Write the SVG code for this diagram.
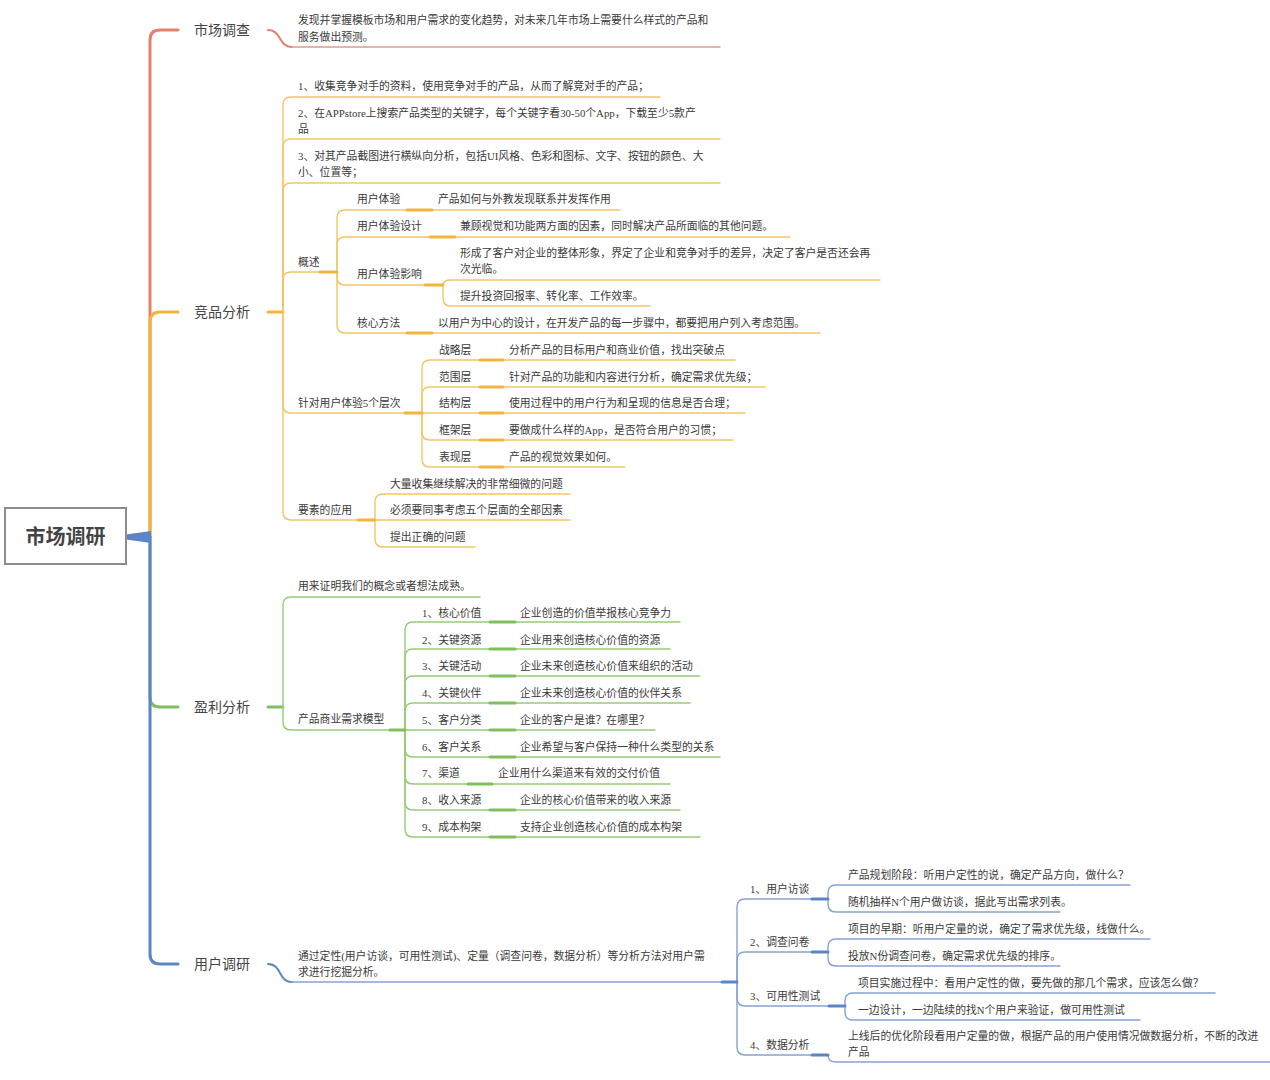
<svg xmlns="http://www.w3.org/2000/svg" width="1270" height="1080" viewBox="0 0 1270 1080">
<style>
text{font-family:"Liberation Serif","Noto Sans CJK SC",sans-serif;fill:#3a3a3a;font-size:10.8px;dominant-baseline:central}
.main{font-size:14px;fill:#444}
.root{font-size:20px;font-weight:bold;fill:#444}
path{fill:none;stroke-linecap:round;stroke-linejoin:round}
.r{stroke:#e4806e}.o{stroke:#f1b43c}.g{stroke:#80c05c}.b{stroke:#5b85c7}
.t{stroke-width:3}
.s{stroke-width:1.4}
.ro{stroke:#f3c665}.rg{stroke:#96cc78}.rb{stroke:#86a3d2}.rr{stroke:#dc9a8e}
.k{stroke-width:3}
</style>
<rect width="1270" height="1080" fill="#fff"/>
<g id="connectors">
  <!-- trunk -->
  <path class="r t" d="M150,537 L150,40 Q150,30 160,30 L178,30"/>
  <path class="g t" d="M150,537 L150,697 Q150,707 160,707 L178,707"/>
  <path class="o t" d="M150,537 L150,322 Q150,312 160,312 L178,312"/>
  <path class="b t" d="M150,537 L150,954 Q150,964 160,964 L178,964"/>
  <polygon points="126,534.5 126,539.5 151,543 151,531" fill="#5b85c7"/>
  <!-- 市场调查 -->
  <path class="r" stroke-width="2" d="M268,30 C282,30 278,47 292,47"/>
  <path class="rr s" d="M290,47 L720,47"/>
  <!-- 竞品分析 -->
  <path class="o k" d="M268,312 L283,312"/>
  <g class="ro s">
    <path d="M283,312 L283,105 Q283,97 291,97 L660,97"/>
    <path d="M283,312 L283,147 Q283,139 291,139 L720,139"/>
    <path d="M283,312 L283,191 Q283,183 291,183 L720,183"/>
    <path d="M283,312 L283,280 Q283,272 291,272 L322,272"/>
    <path d="M283,312 L283,405 Q283,413 291,413 L405,413"/>
    <path d="M283,312 L283,512 Q283,520 291,520 L358,520"/>
    <path d="M337,272 L337,218 Q337,210 345,210 L620,210"/>
    <path d="M337,272 L337,245 Q337,237 345,237 L790,237"/>
    <path d="M337,272 L337,277 Q337,285 345,285 L425,285"/>
    <path d="M337,272 L337,325 Q337,333 345,333 L820,333"/>
    <path d="M443,285 Q443,280 451,280 L880,280"/>
    <path d="M443,285 L443,298 Q443,306 451,306 L650,306"/>
    <path d="M422,413 L422,368 Q422,360 430,360 L735,360"/>
    <path d="M422,413 L422,395 Q422,387 430,387 L765,387"/>
    <path d="M422,413 L745,413"/>
    <path d="M422,413 L422,432 Q422,440 430,440 L733,440"/>
    <path d="M422,413 L422,459 Q422,467 430,467 L625,467"/>
    <path d="M375,520 L375,502 Q375,494 383,494 L570,494"/>
    <path d="M375,520 L570,520"/>
    <path d="M375,520 L375,539 Q375,547 383,547 L475,547"/>
  </g>
  <g class="o k">
    <path d="M320,272 L337,272"/>
    <path d="M407,210 L432,210"/>
    <path d="M430,237 L455,237"/>
    <path d="M425,285 L443,285"/>
    <path d="M407,333 L432,333"/>
    <path d="M405,413 L422,413"/>
    <path d="M480,360 L503,360"/>
    <path d="M480,387 L503,387"/>
    <path d="M480,413 L503,413"/>
    <path d="M480,440 L503,440"/>
    <path d="M480,467 L503,467"/>
    <path d="M358,520 L375,520"/>
  </g>
  <!-- 盈利分析 -->
  <path class="g k" d="M268,707 L283,707"/>
  <g class="rg s">
    <path d="M283,707 L283,605 Q283,597 291,597 L480,597"/>
    <path d="M283,707 L283,722 Q283,730 291,730 L392,730"/>
    <path d="M405,730 L405,630 Q405,622 413,622 L680,622"/>
    <path d="M405,730 L405,657 Q405,649 413,649 L670,649"/>
    <path d="M405,730 L405,684 Q405,676 413,676 L700,676"/>
    <path d="M405,730 L405,711 Q405,703 413,703 L690,703"/>
    <path d="M405,730 L655,730"/>
    <path d="M405,730 L405,749 Q405,757 413,757 L720,757"/>
    <path d="M405,730 L405,776 Q405,784 413,784 L670,784"/>
    <path d="M405,730 L405,802 Q405,810 413,810 L680,810"/>
    <path d="M405,730 L405,829 Q405,837 413,837 L700,837"/>
  </g>
  <g class="g k">
    <path d="M390,730 L405,730"/>
    <path d="M490,622 L515,622"/>
    <path d="M490,649 L515,649"/>
    <path d="M490,676 L515,676"/>
    <path d="M490,703 L515,703"/>
    <path d="M490,730 L515,730"/>
    <path d="M490,757 L515,757"/>
    <path d="M468,784 L492,784"/>
    <path d="M490,810 L515,810"/>
    <path d="M490,837 L515,837"/>
  </g>
  <!-- 用户调研 -->
  <path class="b" stroke-width="2" d="M268,964 C282,964 278,982 292,982"/>
  <g class="rb s">
    <path d="M290,982 L725,982"/>
    <path d="M737,982 L737,907 Q737,899 745,899 L815,899"/>
    <path d="M737,982 L737,960 Q737,952 745,952 L815,952"/>
    <path d="M737,982 L737,998 Q737,1006 745,1006 L832,1006"/>
    <path d="M737,982 L737,1047 Q737,1055 745,1055 L815,1055"/>
    <path d="M828,899 L828,893 Q828,885 836,885 L1130,885"/>
    <path d="M828,899 L828,904 Q828,912 836,912 L1060,912"/>
    <path d="M828,952 L828,947 Q828,939 836,939 L1150,939"/>
    <path d="M828,952 L828,958 Q828,966 836,966 L1060,966"/>
    <path d="M845,1006 L845,1001 Q845,993 853,993 L1215,993"/>
    <path d="M845,1006 L845,1012 Q845,1020 853,1020 L1140,1020"/>
    <path d="M828,1055 Q828,1062 836,1062 L1270,1062"/>
  </g>
  <g class="b k">
    <path d="M722,982 L737,982"/>
    <path d="M812,899 L828,899"/>
    <path d="M812,952 L828,952"/>
    <path d="M829,1006 L845,1006"/>
    <path d="M812,1055 L828,1055"/>
  </g>
</g>
<g id="root">
  <rect x="5" y="508" width="121" height="56" fill="#fff" stroke="#8c8c8c" stroke-width="2"/>
  <text class="root" x="65.5" y="537" text-anchor="middle">市场调研</text>
</g>
<g id="n-shichangdiaocha">
  <text class="main" x="194" y="30">市场调查</text>
  <text x="298" y="20">发现并掌握模板市场和用户需求的变化趋势，对未来几年市场上需要什么样式的产品和</text>
  <text x="298" y="37">服务做出预测。</text>
</g>
<g id="n-jingpin">
  <text class="main" x="194" y="312">竞品分析</text>
  <text x="298" y="86">1、收集竞争对手的资料，使用竞争对手的产品，从而了解竞对手的产品；</text>
  <text x="298" y="113">2、在APPstore上搜索产品类型的关键字，每个关键字看30-50个App，下载至少5款产</text>
  <text x="298" y="129">品</text>
  <text x="298" y="156">3、对其产品截图进行横纵向分析，包括UI风格、色彩和图标、文字、按钮的颜色、大</text>
  <text x="298" y="172">小、位置等；</text>
</g>
<g id="n-gaishu">
  <text x="298" y="262">概述</text>
  <text x="357" y="199">用户体验</text>
  <text x="438" y="199">产品如何与外教发现联系并发挥作用</text>
  <text x="357" y="226">用户体验设计</text>
  <text x="460" y="226">兼顾视觉和功能两方面的因素，同时解决产品所面临的其他问题。</text>
  <text x="357" y="274">用户体验影响</text>
  <text x="460" y="253">形成了客户对企业的整体形象，界定了企业和竞争对手的差异，决定了客户是否还会再</text>
  <text x="460" y="269">次光临。</text>
  <text x="460" y="296">提升投资回报率、转化率、工作效率。</text>
  <text x="357" y="323">核心方法</text>
  <text x="438" y="323">以用户为中心的设计，在开发产品的每一步骤中，都要把用户列入考虑范围。</text>
</g>
<g id="n-cengci">
  <text x="298" y="403">针对用户体验5个层次</text>
  <text x="439" y="350">战略层</text>
  <text x="509" y="350">分析产品的目标用户和商业价值，找出突破点</text>
  <text x="439" y="377">范围层</text>
  <text x="509" y="377">针对产品的功能和内容进行分析，确定需求优先级；</text>
  <text x="439" y="403">结构层</text>
  <text x="509" y="403">使用过程中的用户行为和呈现的信息是否合理；</text>
  <text x="439" y="430">框架层</text>
  <text x="509" y="430">要做成什么样的App，是否符合用户的习惯；</text>
  <text x="439" y="457">表现层</text>
  <text x="509" y="457">产品的视觉效果如何。</text>
</g>
<g id="n-yaosu">
  <text x="298" y="510">要素的应用</text>
  <text x="390" y="484">大量收集继续解决的非常细微的问题</text>
  <text x="390" y="510">必须要同事考虑五个层面的全部因素</text>
  <text x="390" y="537">提出正确的问题</text>
</g>
<g id="n-yingli">
  <text class="main" x="194" y="707">盈利分析</text>
  <text x="298" y="586">用来证明我们的概念或者想法成熟。</text>
  <text x="298" y="719">产品商业需求模型</text>
  <text x="422" y="613">1、核心价值</text>
  <text x="520" y="613">企业创造的价值举报核心竞争力</text>
  <text x="422" y="640">2、关键资源</text>
  <text x="520" y="640">企业用来创造核心价值的资源</text>
  <text x="422" y="666">3、关键活动</text>
  <text x="520" y="666">企业未来创造核心价值来组织的活动</text>
  <text x="422" y="693">4、关键伙伴</text>
  <text x="520" y="693">企业未来创造核心价值的伙伴关系</text>
  <text x="422" y="720">5、客户分类</text>
  <text x="520" y="720">企业的客户是谁？在哪里？</text>
  <text x="422" y="747">6、客户关系</text>
  <text x="520" y="747">企业希望与客户保持一种什么类型的关系</text>
  <text x="422" y="773">7、渠道</text>
  <text x="498" y="773">企业用什么渠道来有效的交付价值</text>
  <text x="422" y="800">8、收入来源</text>
  <text x="520" y="800">企业的核心价值带来的收入来源</text>
  <text x="422" y="827">9、成本构架</text>
  <text x="520" y="827">支持企业创造核心价值的成本构架</text>
</g>
<g id="n-yonghu">
  <text class="main" x="194" y="964">用户调研</text>
  <text x="298" y="956">通过定性(用户访谈，可用性测试)、定量（调查问卷，数据分析）等分析方法对用户需</text>
  <text x="298" y="972">求进行挖掘分析。</text>
  <text x="750" y="889">1、用户访谈</text>
  <text x="848" y="875">产品规划阶段：听用户定性的说，确定产品方向，做什么？</text>
  <text x="848" y="902">随机抽样N个用户做访谈，据此写出需求列表。</text>
  <text x="750" y="942">2、调查问卷</text>
  <text x="848" y="929">项目的早期：听用户定量的说，确定了需求优先级，线做什么。</text>
  <text x="848" y="956">投放N份调查问卷，确定需求优先级的排序。</text>
  <text x="750" y="996">3、可用性测试</text>
  <text x="858" y="983">项目实施过程中：看用户定性的做，要先做的那几个需求，应该怎么做？</text>
  <text x="858" y="1010">一边设计，一边陆续的找N个用户来验证，做可用性测试</text>
  <text x="750" y="1045">4、数据分析</text>
  <text x="848" y="1036">上线后的优化阶段看用户定量的做，根据产品的用户使用情况做数据分析，不断的改进</text>
  <text x="848" y="1052">产品</text>
</g>
</svg>
